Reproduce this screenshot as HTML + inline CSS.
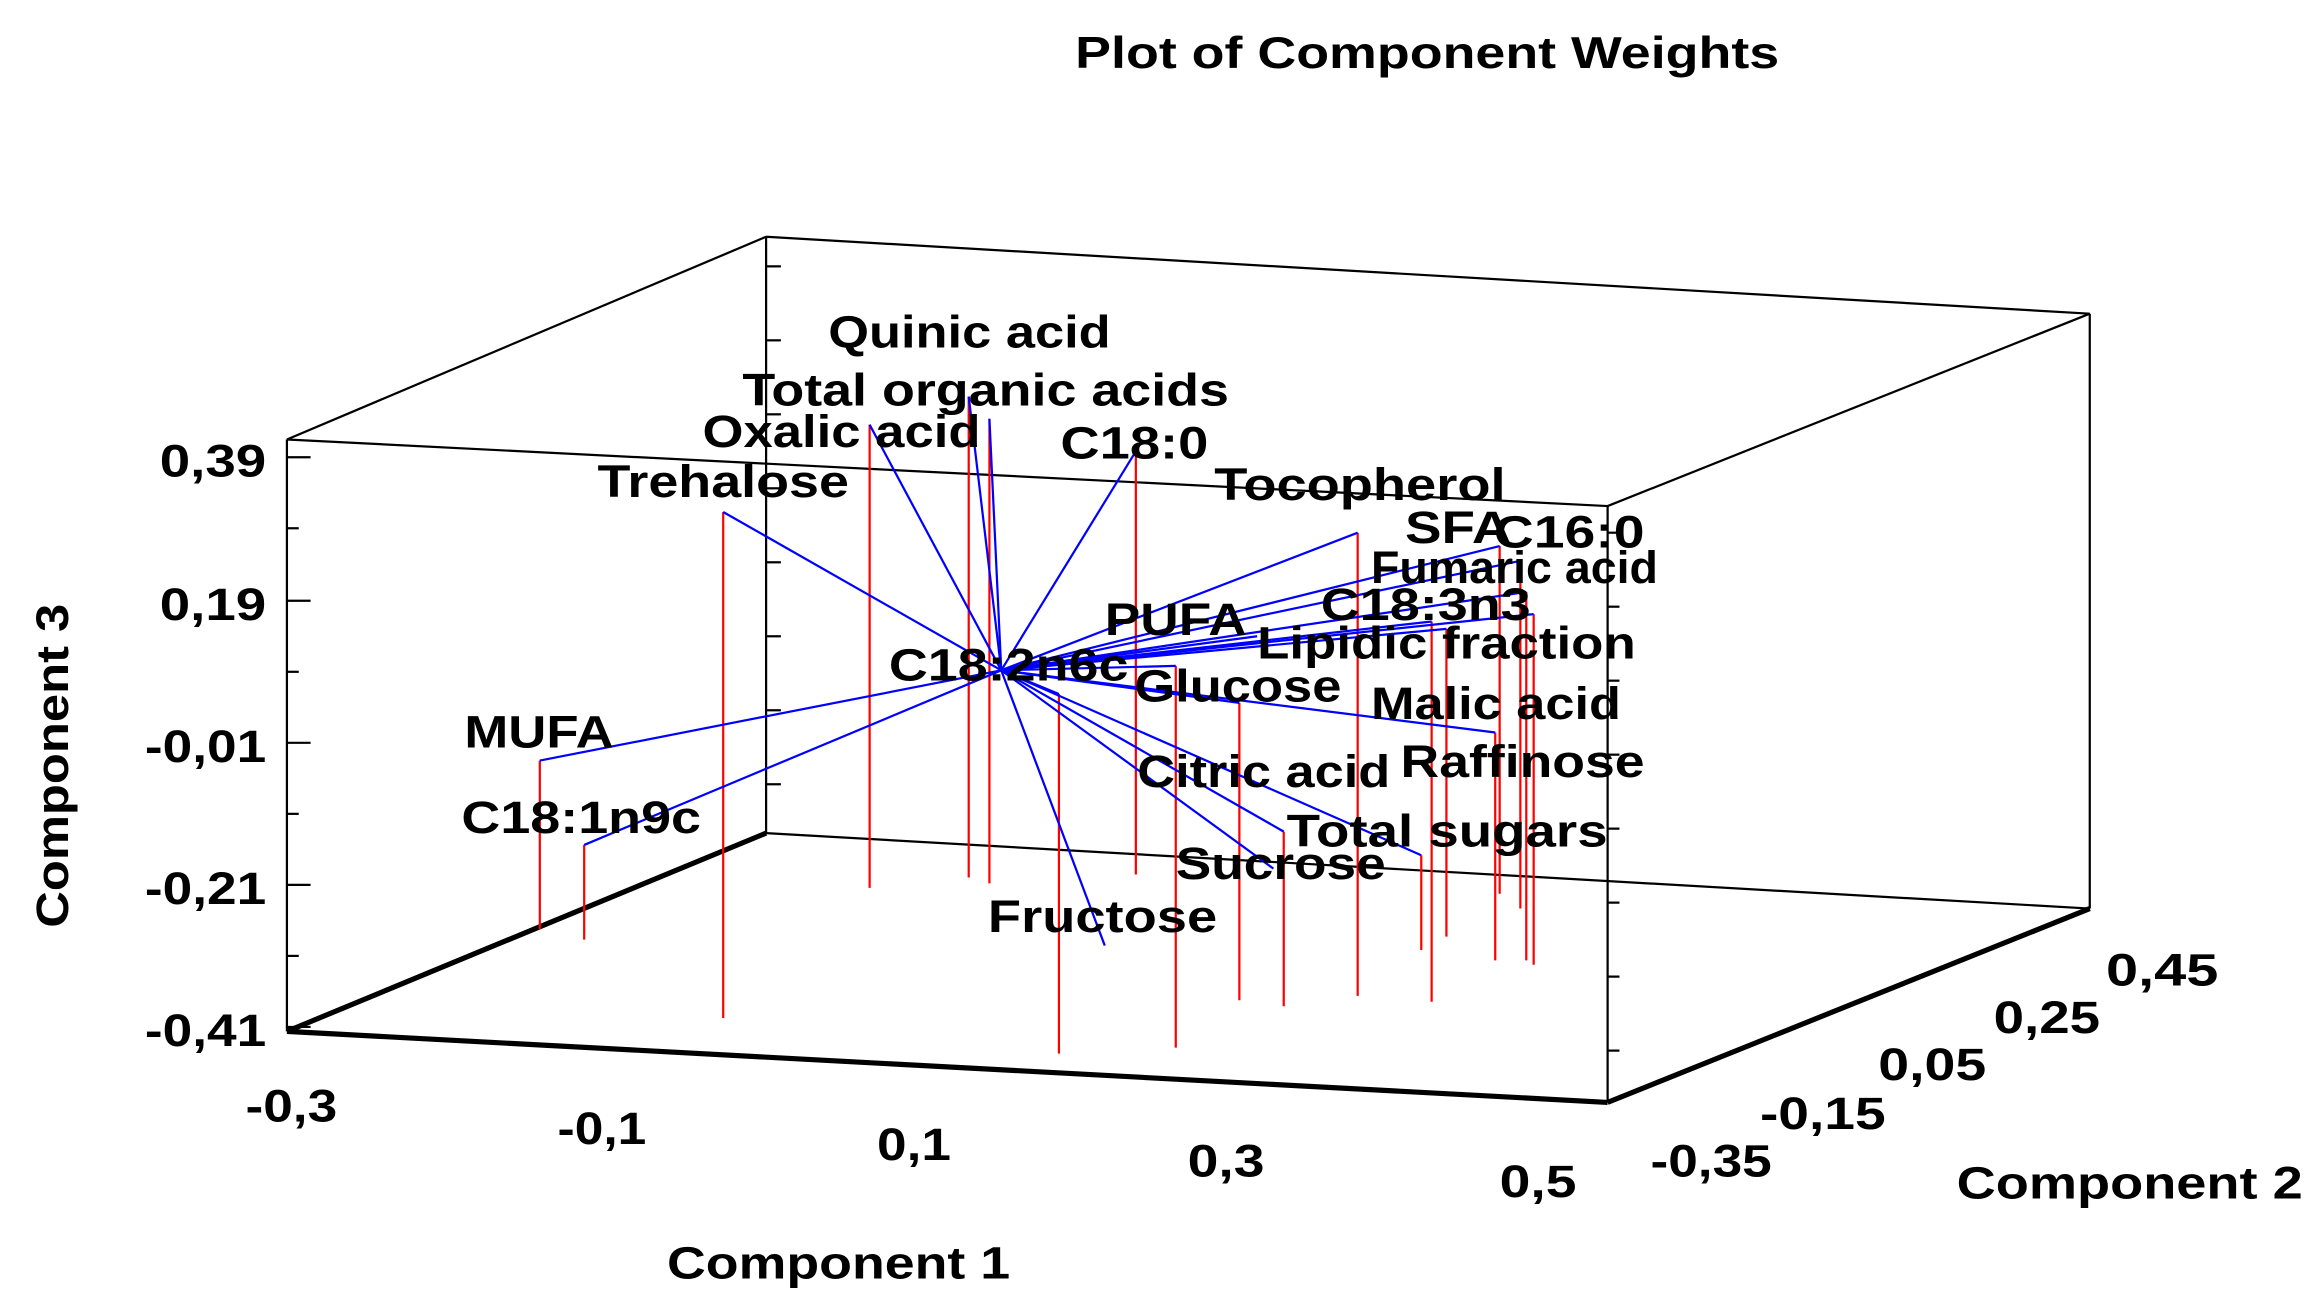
<!DOCTYPE html>
<html><head><meta charset="utf-8"><style>
html,body{margin:0;padding:0;background:#fff;}
svg{display:block;}
text{font-family:"Liberation Sans",Arial,sans-serif;font-weight:bold;fill:#000;}
</style></head><body>
<svg width="2319" height="1314" viewBox="0 0 1568 888" preserveAspectRatio="none" xmlns="http://www.w3.org/2000/svg">
<rect width="1568" height="888" fill="#fff"/>
<text x="727" y="46" font-size="30" textLength="476" lengthAdjust="spacingAndGlyphs">Plot of Component Weights</text>
<g stroke="#000" stroke-width="1.5" fill="none">
<line x1="518" y1="160" x2="518" y2="563"/>
<line x1="518" y1="160" x2="1413" y2="212"/>
<line x1="1413" y1="212" x2="1413" y2="614"/>
<line x1="518" y1="563" x2="1413" y2="614"/>
<line x1="194" y1="297" x2="518" y2="160"/>
<line x1="194" y1="297" x2="1087" y2="342"/>
<line x1="1087" y1="342" x2="1413" y2="212"/>
<line x1="194" y1="297" x2="194" y2="697"/>
<line x1="1087" y1="342" x2="1087" y2="745"/>
</g>
<g stroke="#000" stroke-width="3.5" fill="none">
<line x1="194" y1="697" x2="1087" y2="745"/>
<line x1="1087" y1="745" x2="1413" y2="614"/>
<line x1="194" y1="697" x2="518" y2="563"/>
</g>
<g stroke="#000" stroke-width="1.5">
<line x1="194" y1="309" x2="210" y2="309"/><line x1="194" y1="406" x2="210" y2="406"/>
<line x1="194" y1="502" x2="210" y2="502"/><line x1="194" y1="598" x2="210" y2="598"/>
<line x1="194" y1="694" x2="210" y2="694"/>
<line x1="194" y1="357" x2="202" y2="357"/><line x1="194" y1="454" x2="202" y2="454"/>
<line x1="194" y1="550" x2="202" y2="550"/><line x1="194" y1="646" x2="202" y2="646"/>
<line x1="1087" y1="360" x2="1095" y2="360"/><line x1="1087" y1="410" x2="1095" y2="410"/>
<line x1="1087" y1="460" x2="1095" y2="460"/><line x1="1087" y1="510" x2="1095" y2="510"/>
<line x1="1087" y1="560" x2="1095" y2="560"/><line x1="1087" y1="610" x2="1095" y2="610"/>
<line x1="1087" y1="660" x2="1095" y2="660"/><line x1="1087" y1="710" x2="1095" y2="710"/>
<line x1="518" y1="180" x2="528" y2="180"/><line x1="518" y1="230" x2="528" y2="230"/>
<line x1="518" y1="280" x2="528" y2="280"/><line x1="518" y1="330" x2="528" y2="330"/>
<line x1="518" y1="380" x2="528" y2="380"/><line x1="518" y1="430" x2="528" y2="430"/>
<line x1="518" y1="480" x2="528" y2="480"/><line x1="518" y1="530" x2="528" y2="530"/>
</g>
<g font-size="31">
<text x="108" y="322" textLength="72" lengthAdjust="spacingAndGlyphs">0,39</text>
<text x="108" y="419" textLength="72" lengthAdjust="spacingAndGlyphs">0,19</text>
<text x="98" y="515" textLength="82" lengthAdjust="spacingAndGlyphs">-0,01</text>
<text x="98" y="611" textLength="82" lengthAdjust="spacingAndGlyphs">-0,21</text>
<text x="98" y="707" textLength="82" lengthAdjust="spacingAndGlyphs">-0,41</text>
<text x="166" y="758" textLength="62" lengthAdjust="spacingAndGlyphs">-0,3</text>
<text x="377" y="773" textLength="60" lengthAdjust="spacingAndGlyphs">-0,1</text>
<text x="593" y="784" textLength="50" lengthAdjust="spacingAndGlyphs">0,1</text>
<text x="803" y="795" textLength="52" lengthAdjust="spacingAndGlyphs">0,3</text>
<text x="1014" y="809" textLength="52" lengthAdjust="spacingAndGlyphs">0,5</text>
<text x="1116" y="795" textLength="82" lengthAdjust="spacingAndGlyphs">-0,35</text>
<text x="1190" y="763" textLength="85" lengthAdjust="spacingAndGlyphs">-0,15</text>
<text x="1270" y="730" textLength="73" lengthAdjust="spacingAndGlyphs">0,05</text>
<text x="1348" y="698" textLength="72" lengthAdjust="spacingAndGlyphs">0,25</text>
<text x="1424" y="666" textLength="76" lengthAdjust="spacingAndGlyphs">0,45</text>
</g>
<text transform="translate(46,627) rotate(-90)" font-size="31" textLength="219" lengthAdjust="spacingAndGlyphs">Component 3</text>
<text x="451" y="864" font-size="31" textLength="232" lengthAdjust="spacingAndGlyphs">Component 1</text>
<text x="1323" y="810" font-size="31" textLength="234" lengthAdjust="spacingAndGlyphs">Component 2</text>
<g stroke="#f00" stroke-width="1.5">
<line x1="365" y1="514" x2="365" y2="628"/>
<line x1="395" y1="571" x2="395" y2="635"/>
<line x1="489" y1="346" x2="489" y2="688"/>
<line x1="588" y1="287" x2="588" y2="600"/>
<line x1="655" y1="268" x2="655" y2="593"/>
<line x1="669" y1="283" x2="669" y2="597"/>
<line x1="768" y1="305" x2="768" y2="591"/>
<line x1="716" y1="469" x2="716" y2="712"/>
<line x1="795" y1="450" x2="795" y2="708"/>
<line x1="838" y1="475" x2="838" y2="676"/>
<line x1="868" y1="562" x2="868" y2="680"/>
<line x1="918" y1="360" x2="918" y2="673"/>
<line x1="961" y1="578" x2="961" y2="642"/>
<line x1="968" y1="420" x2="968" y2="677"/>
<line x1="978" y1="425" x2="978" y2="633"/>
<line x1="1011" y1="495" x2="1011" y2="649"/>
<line x1="1014" y1="369" x2="1014" y2="604"/>
<line x1="1028" y1="379" x2="1028" y2="614"/>
<line x1="1032" y1="400" x2="1032" y2="649"/>
<line x1="1037" y1="415" x2="1037" y2="652"/>
</g>
<g stroke="#00f" stroke-width="1.5">
<line x1="677" y1="453" x2="365" y2="514"/>
<line x1="677" y1="453" x2="395" y2="571"/>
<line x1="677" y1="453" x2="489" y2="346"/>
<line x1="677" y1="453" x2="588" y2="287"/>
<line x1="677" y1="453" x2="655" y2="268"/>
<line x1="677" y1="453" x2="669" y2="283"/>
<line x1="677" y1="453" x2="768" y2="305"/>
<line x1="677" y1="453" x2="716" y2="469"/>
<line x1="677" y1="453" x2="795" y2="450"/>
<line x1="677" y1="453" x2="838" y2="475"/>
<line x1="677" y1="453" x2="868" y2="562"/>
<line x1="677" y1="453" x2="861" y2="587"/>
<line x1="677" y1="453" x2="918" y2="360"/>
<line x1="677" y1="453" x2="961" y2="578"/>
<line x1="677" y1="453" x2="968" y2="420"/>
<line x1="677" y1="453" x2="978" y2="425"/>
<line x1="677" y1="453" x2="1011" y2="495"/>
<line x1="677" y1="453" x2="1014" y2="369"/>
<line x1="677" y1="453" x2="1028" y2="379"/>
<line x1="677" y1="453" x2="1037" y2="415"/>
<line x1="677" y1="453" x2="1032" y2="400"/>
<line x1="677" y1="453" x2="747" y2="639"/>
<line x1="677" y1="453" x2="850" y2="430"/>
</g>
<g font-size="31">
<text x="560" y="235" textLength="191" lengthAdjust="spacingAndGlyphs">Quinic acid</text>
<text x="502" y="274" textLength="329" lengthAdjust="spacingAndGlyphs">Total organic acids</text>
<text x="475" y="302" textLength="188" lengthAdjust="spacingAndGlyphs">Oxalic acid</text>
<text x="404" y="336" textLength="170" lengthAdjust="spacingAndGlyphs">Trehalose</text>
<text x="717" y="310" textLength="100" lengthAdjust="spacingAndGlyphs">C18:0</text>
<text x="821" y="338" textLength="197" lengthAdjust="spacingAndGlyphs">Tocopherol</text>
<text x="950" y="367" textLength="72" lengthAdjust="spacingAndGlyphs">SFA</text>
<text x="1010" y="370" textLength="102" lengthAdjust="spacingAndGlyphs">C16:0</text>
<text x="927" y="394" textLength="194" lengthAdjust="spacingAndGlyphs">Fumaric acid</text>
<text x="893" y="419" textLength="142" lengthAdjust="spacingAndGlyphs">C18:3n3</text>
<text x="747" y="429" textLength="96" lengthAdjust="spacingAndGlyphs">PUFA</text>
<text x="850" y="445" textLength="256" lengthAdjust="spacingAndGlyphs">Lipidic fraction</text>
<text x="601" y="460" textLength="162" lengthAdjust="spacingAndGlyphs">C18:2n6c</text>
<text x="767" y="474" textLength="140" lengthAdjust="spacingAndGlyphs">Glucose</text>
<text x="927" y="486" textLength="169" lengthAdjust="spacingAndGlyphs">Malic acid</text>
<text x="314" y="505" textLength="101" lengthAdjust="spacingAndGlyphs">MUFA</text>
<text x="947" y="525" textLength="165" lengthAdjust="spacingAndGlyphs">Raffinose</text>
<text x="769" y="532" textLength="171" lengthAdjust="spacingAndGlyphs">Citric acid</text>
<text x="312" y="563" textLength="162" lengthAdjust="spacingAndGlyphs">C18:1n9c</text>
<text x="870" y="572" textLength="217" lengthAdjust="spacingAndGlyphs">Total sugars</text>
<text x="795" y="594" textLength="142" lengthAdjust="spacingAndGlyphs">Sucrose</text>
<text x="668" y="630" textLength="155" lengthAdjust="spacingAndGlyphs">Fructose</text>
</g>
</svg>
</body></html>
